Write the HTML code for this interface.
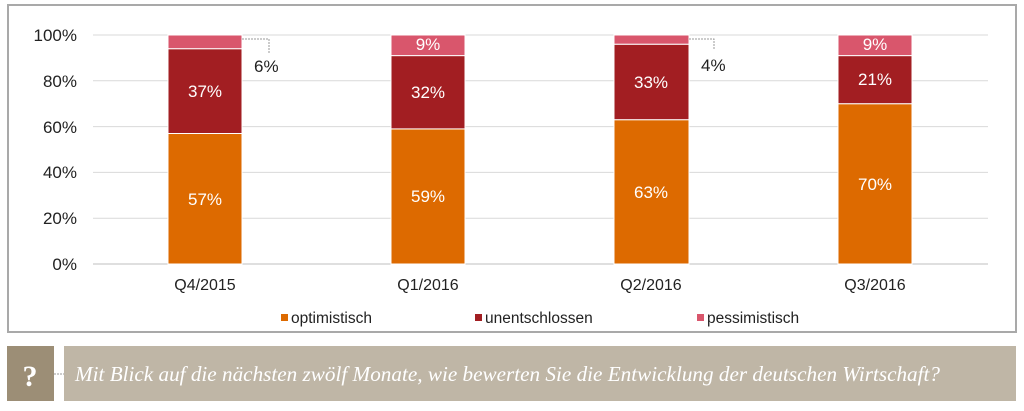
<!DOCTYPE html>
<html><head><meta charset="utf-8"><style>
body{margin:0;background:#fff;width:1024px;height:406px;overflow:hidden;font-family:"Liberation Sans",sans-serif}
</style></head><body>
<svg width="1024" height="406" xmlns="http://www.w3.org/2000/svg" font-family="Liberation Sans, sans-serif">
<rect x="8" y="5" width="1008" height="327" fill="#fff" stroke="#a9a9a9" stroke-width="2"/>
<g stroke="#d9d9d9" stroke-width="1">
<line x1="93" x2="988" y1="35" y2="35"/><line x1="93" x2="988" y1="80.8" y2="80.8"/>
<line x1="93" x2="988" y1="126.6" y2="126.6"/><line x1="93" x2="988" y1="172.4" y2="172.4"/>
<line x1="93" x2="988" y1="218.2" y2="218.2"/>
</g>
<line x1="93" x2="988" y1="264" y2="264" stroke="#bfbfbf"/>
<g font-size="17" fill="#222" text-anchor="end">
<text x="77" y="41">100%</text><text x="77" y="87">80%</text><text x="77" y="133">60%</text>
<text x="77" y="178">40%</text><text x="77" y="224">20%</text><text x="77" y="270">0%</text>
</g>
<g stroke="#fff" stroke-width="1">
<rect x="168" y="133.5" width="74" height="130.5" fill="#dd6a00"/>
<rect x="168" y="48.7" width="74" height="84.8" fill="#a21e22"/>
<rect x="168" y="35" width="74" height="13.7" fill="#d9566c"/>
<rect x="391" y="128.9" width="74" height="135.1" fill="#dd6a00"/>
<rect x="391" y="55.6" width="74" height="73.3" fill="#a21e22"/>
<rect x="391" y="35" width="74" height="20.6" fill="#d9566c"/>
<rect x="614" y="119.7" width="75" height="144.3" fill="#dd6a00"/>
<rect x="614" y="44.2" width="75" height="75.5" fill="#a21e22"/>
<rect x="614" y="35" width="75" height="9.2" fill="#d9566c"/>
<rect x="838" y="103.7" width="74" height="160.3" fill="#dd6a00"/>
<rect x="838" y="55.6" width="74" height="48.1" fill="#a21e22"/>
<rect x="838" y="35" width="74" height="20.6" fill="#d9566c"/>
</g>
<g font-size="17" fill="#fff" text-anchor="middle">
<text x="205" y="205">57%</text><text x="205" y="97">37%</text>
<text x="428" y="202">59%</text><text x="428" y="98">32%</text><text x="428" y="50">9%</text>
<text x="651" y="198">63%</text><text x="651" y="88">33%</text>
<text x="875" y="190">70%</text><text x="875" y="85">21%</text><text x="875" y="50">9%</text>
</g>
<g stroke="#999" stroke-dasharray="2,1" fill="none">
<polyline points="242,39 269,39 269,53"/><polyline points="689,39 714,39 714,50"/>
</g>
<g font-size="17" fill="#222">
<text x="254" y="72">6%</text><text x="701" y="71">4%</text>
</g>
<g font-size="16" fill="#222" text-anchor="middle">
<text x="205" y="290">Q4/2015</text><text x="428" y="290">Q1/2016</text>
<text x="651" y="290">Q2/2016</text><text x="875" y="290">Q3/2016</text>
</g>
<rect x="281" y="314" width="7" height="7" fill="#dd6a00"/>
<rect x="475" y="314" width="7" height="7" fill="#a21e22"/>
<rect x="697" y="314" width="7" height="7" fill="#d9566c"/>
<g font-size="15.5" fill="#222">
<text x="291" y="323">optimistisch</text><text x="485" y="323">unentschlossen</text><text x="707" y="323">pessimistisch</text>
</g>
<rect x="7" y="346" width="47" height="55" fill="#9c8e76"/>
<text x="30" y="386" font-family="Liberation Serif, serif" font-weight="bold" font-size="30" fill="#fff" text-anchor="middle">?</text>
<line x1="54" x2="64" y1="374" y2="374" stroke="#999" stroke-dasharray="2,1"/>
<rect x="64" y="346" width="952" height="55" fill="#bfb6a6"/>
<text x="75" y="381" font-family="Liberation Serif, serif" font-style="italic" font-size="21" fill="#fff" textLength="865" lengthAdjust="spacingAndGlyphs">Mit Blick auf die nächsten zwölf Monate, wie bewerten Sie die Entwicklung der deutschen Wirtschaft?</text>
</svg>
</body></html>
